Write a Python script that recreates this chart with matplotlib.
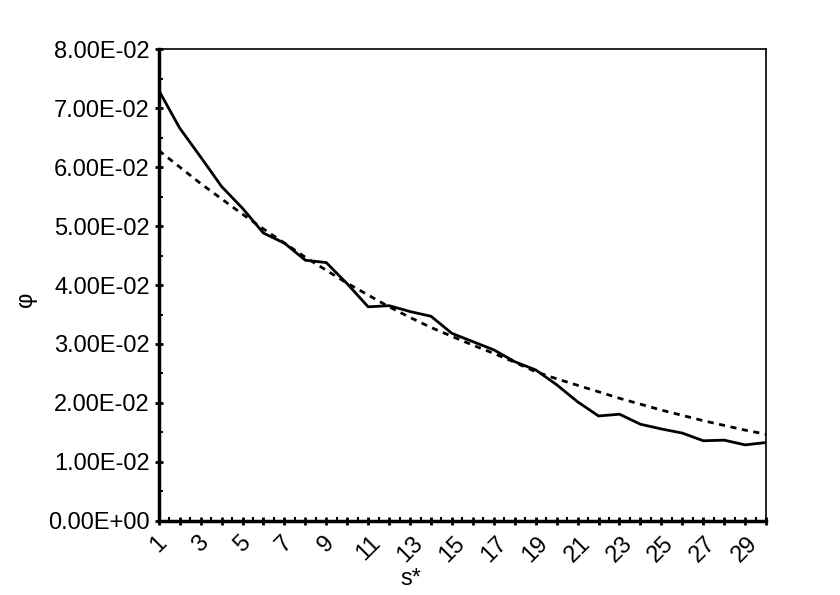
import numpy as np
import matplotlib
matplotlib.use('Agg')
import matplotlib.pyplot as plt
from matplotlib.ticker import FuncFormatter, MultipleLocator

plt.rcParams['font.family'] = ['Liberation Sans', 'DejaVu Sans']

# s* values and the two curves
s = np.arange(1, 31)
phi_meas = [0.0730, 0.0666, 0.0617, 0.0567, 0.0530, 0.0488, 0.0471, 0.0442, 0.0438, 0.0402,
            0.0363, 0.0365, 0.0355, 0.0347, 0.0318, 0.0304, 0.0290, 0.0270, 0.0256, 0.0231,
            0.0202, 0.0178, 0.0181, 0.0164, 0.0156, 0.0149, 0.0136, 0.0137, 0.0129, 0.0133]
phi_fit = [0.0628, 0.0600, 0.0572, 0.0546, 0.0520, 0.0495, 0.0471, 0.0447, 0.0425, 0.0403,
           0.0383, 0.0363, 0.0345, 0.0328, 0.0313, 0.0298, 0.0284, 0.0269, 0.0253, 0.0241,
           0.0230, 0.0219, 0.0208, 0.0198, 0.0188, 0.0179, 0.0170, 0.0162, 0.0154, 0.0147]
xticks = list(range(1, 31))
xlabels = [str(v) if v % 2 == 1 else '' for v in xticks]

fig = plt.figure(figsize=(8.4, 5.95), dpi=100)
ax = fig.add_axes([0.189, 0.1244, 0.723, 0.7932])

ax.plot(s, phi_meas, color='black', lw=2.0)
ax.plot(s, phi_fit, color='black', lw=2.0, ls=(0, (2.2, 2.0)))

ax.set_xlim(1, 30)
ax.set_ylim(0, 0.08)
ax.set_xticks(xticks)
ax.set_xticklabels(xlabels, rotation=45, ha='center', fontsize=17)
ax.xaxis.set_minor_locator(MultipleLocator(0.5))
ax.yaxis.set_major_locator(MultipleLocator(0.01))
ax.yaxis.set_minor_locator(MultipleLocator(0.005))
ax.yaxis.set_major_formatter(FuncFormatter(lambda v, p: f'{v:.2E}'))
ax.tick_params(axis='y', labelsize=17)
ax.tick_params(which='major', direction='inout', length=6, width=2)
ax.tick_params(which='minor', direction='in', length=3, width=1.5)
ax.tick_params(axis='x', which='major', pad=5)

for side in ['left', 'bottom']:
    ax.spines[side].set_linewidth(2.5)
for side in ['top', 'right']:
    ax.spines[side].set_linewidth(1.2)

ax.set_xlabel('s*', fontsize=17)
ax.xaxis.set_label_coords(0.415, -0.10)
ax.set_ylabel('φ', fontsize=17)
ax.yaxis.set_label_coords(-0.20, 0.47)

fig.savefig('out.png', dpi=100)
